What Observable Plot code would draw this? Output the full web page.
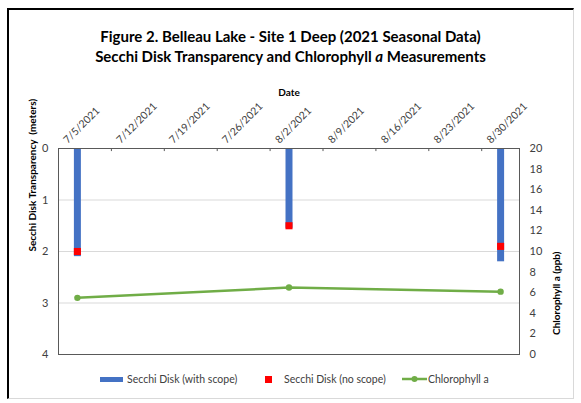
<!DOCTYPE html>
<html>
<head>
<meta charset="utf-8">
<script src="https://cdn.jsdelivr.net/npm/d3@7"></script>
<script src="https://cdn.jsdelivr.net/npm/@observablehq/plot@0.6"></script>
<style>
  html, body { margin: 0; padding: 0; background: #fff; }
  #wrap { position: relative; width: 581px; height: 403px; font-family: Lato, "Liberation Sans", sans-serif; }
  #border { position: absolute; left: 7px; top: 8px; width: 564px; height: 388px;
    border-left: 2px solid #000; border-top: 2px solid #000;
    border-right: 1px solid #d9d9d9; border-bottom: 1px solid #d9d9d9; pointer-events: none; }
  #title { position: absolute; left: 0; top: 26px; width: 581px; text-align: center;
    font-weight: bold; font-size: 15px; line-height: 20px; color: #000; }
  #chart { position: absolute; left: 0; top: 72px; }
  #legend { position: absolute; left: 0; top: 370px; width: 581px; height: 18px;
    font-size: 10.5px; color: #404040; }
  .item { position: absolute; top: 0; height: 18px; display: flex; align-items: center; }
</style>
</head>
<body>
<div id="wrap">
  <div id="title">Figure 2. Belleau Lake - Site 1 Deep (2021 Seasonal Data)<br>Secchi Disk Transparency and Chlorophyll <i>a</i> Measurements</div>
  <div id="chart"></div>
  <div id="legend">
    <div class="item" style="left:100px"><span style="display:inline-block;width:23px;height:5px;background:#4472C4;margin-right:4px"></span>Secchi Disk (with scope)</div>
    <div class="item" style="left:265px"><span style="display:inline-block;width:7px;height:7px;background:#FF0000;margin-right:12px"></span>Secchi Disk (no scope)</div>
    <div class="item" style="left:402px"><svg width="25" height="8" style="margin-right:1px"><line x1="0" y1="4" x2="25" y2="4" stroke="#70AD47" stroke-width="2.5"/><circle cx="12.5" cy="4" r="3" fill="#70AD47"/></svg>Chlorophyll a</div>
  </div>
  <div id="border"></div>
</div>
<script>
// ---- data ----
const sampleDates = ["2021-07-05", "2021-08-02", "2021-08-30"];
const secchiWithScope = [2.1, 1.55, 2.2];   // meters
const secchiNoScope = [2.0, 1.5, 1.9];      // meters
const chlorophyllA = [5.5, 6.5, 6.1];       // ppb
const dateTicks = ["2021-07-05", "2021-07-12", "2021-07-19", "2021-07-26", "2021-08-02",
                   "2021-08-09", "2021-08-16", "2021-08-23", "2021-08-30"];
const dateTickLabels = ["7/5/2021", "7/12/2021", "7/19/2021", "7/26/2021", "8/2/2021",
                        "8/9/2021", "8/16/2021", "8/23/2021", "8/30/2021"];
const secchiTicks = [0, 1, 2, 3, 4];
const chlTicks = [0, 2, 4, 6, 8, 10, 12, 14, 16, 18, 20];

// ---- build ----
const parse = d3.utcParse("%Y-%m-%d");
const rows = sampleDates.map((d, i) => ({
  date: parse(d), scope: secchiWithScope[i], noscope: secchiNoScope[i], chl: chlorophyllA[i]
}));
const tickDates = dateTicks.map(parse);
const labelOf = new Map(tickDates.map((d, i) => [+d, dateTickLabels[i]]));
const depthMax = secchiTicks[secchiTicks.length - 1];
const chlMax = chlTicks[chlTicks.length - 1];
const chlToDepth = v => depthMax - v * depthMax / chlMax;
const depthToChl = d => Math.round((depthMax - d) * chlMax / depthMax);
const xDomain = [d3.utcHour.offset(tickDates[0], -60), d3.utcHour.offset(tickDates[tickDates.length - 1], 60)];
const minorTicks = tickDates.slice(1).map(d => d3.utcHour.offset(d, -60));

const chart = Plot.plot({
  width: 581,
  height: 296,
  marginTop: 76,
  marginBottom: 14,
  marginLeft: 58,
  marginRight: 62,
  style: { fontFamily: "Lato, 'Liberation Sans', sans-serif", fontSize: "10px", color: "#404040", background: "transparent" },
  x: { type: "utc", domain: xDomain },
  y: { domain: [0, depthMax], reverse: true },
  marks: [
    Plot.gridY([1, 2, 3], { stroke: "#d9d9d9", strokeOpacity: 1 }),
    Plot.ruleX(rows, { x: "date", y1: 0, y2: "scope", stroke: "#4472C4", strokeWidth: 7 }),
    Plot.dot(rows, { x: "date", y: "noscope", symbol: "square", fill: "#FF0000", r: 4 }),
    Plot.line(rows, { x: "date", y: d => chlToDepth(d.chl), stroke: "#70AD47", strokeWidth: 2.5 }),
    Plot.dot(rows, { x: "date", y: d => chlToDepth(d.chl), fill: "#70AD47", r: 3.2 }),
    Plot.ruleX(minorTicks, { y1: 0, y2: 0.06, stroke: "#595959" }),
    Plot.frame({ stroke: "#595959" }),
    Plot.axisX(tickDates, { anchor: "top", tickSize: 0, tickPadding: 7, tickRotate: -45,
      tickFormat: d => labelOf.get(+d), dx: -12, fill: "#404040", fontSize: 10.5, label: null }),
    Plot.axisY(secchiTicks, { anchor: "left", tickSize: 0, tickPadding: 10, tickFormat: d3.format("d"),
      fill: "#404040", fontSize: 11, label: null }),
    Plot.axisY(chlTicks.map(chlToDepth), { anchor: "right", tickSize: 0, tickPadding: 10,
      tickFormat: depthToChl, fill: "#404040", fontSize: 11, label: null }),
    Plot.text(["Date"], { frameAnchor: "top", dy: -60, fontWeight: "bold", fontSize: 10, fill: "#000" }),
    Plot.text(["Secchi Disk Transparency  (meters)"], { frameAnchor: "left", dx: -26, rotate: -90, fontWeight: "bold", fontSize: 10, fill: "#000" }),
    Plot.text(["Chlorophyll a (ppb)"], { frameAnchor: "right", dx: 37, rotate: -90, fontWeight: "bold", fontSize: 10, fill: "#000" })
  ]
});
document.getElementById("chart").appendChild(chart);
</script>
</body>
</html>
